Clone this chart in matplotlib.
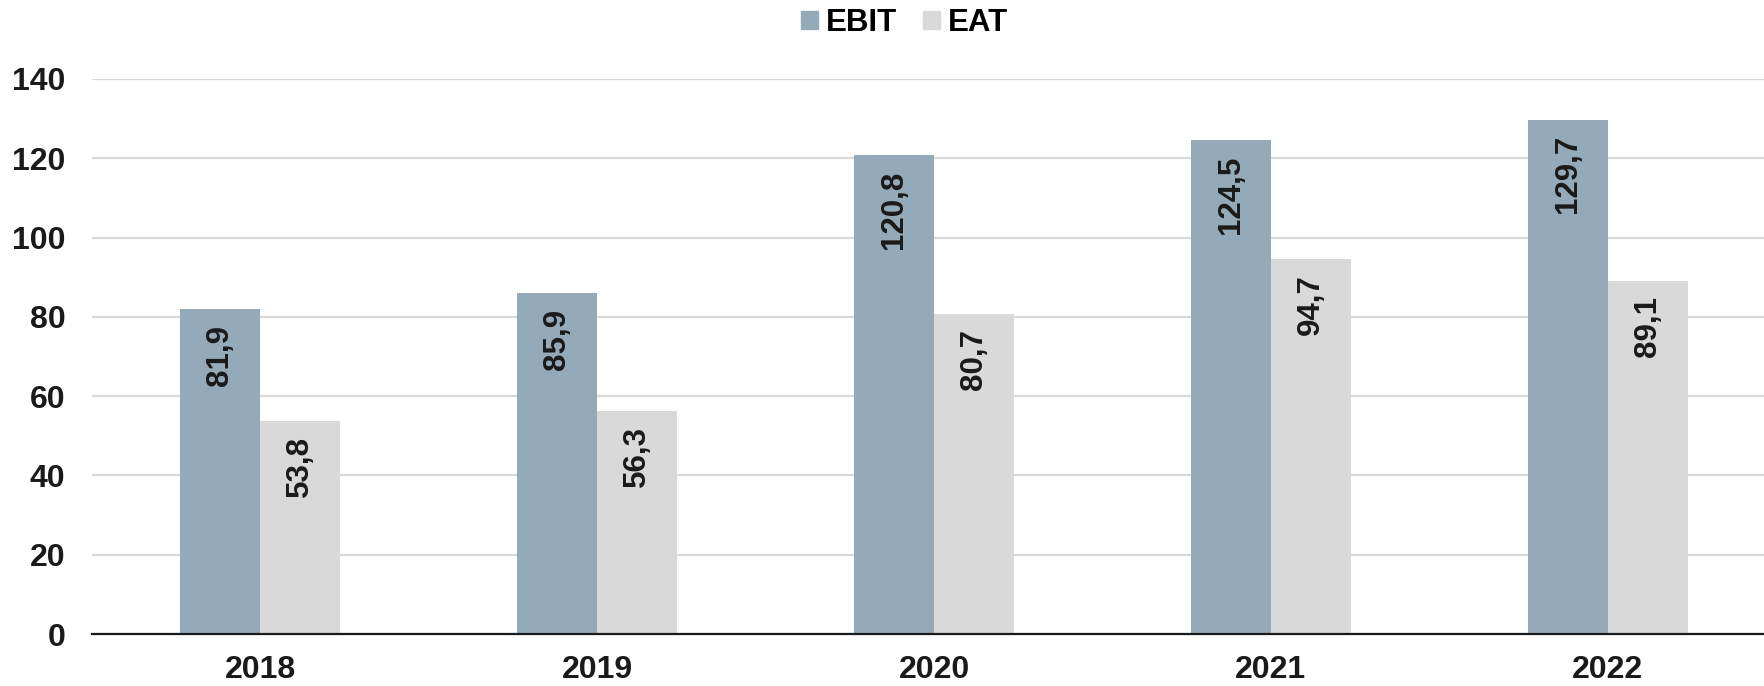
import numpy as np
import matplotlib.pyplot as plt
from matplotlib.patches import Patch

plt.rcParams['font.family'] = ['Liberation Sans', 'DejaVu Sans']
plt.rcParams['font.weight'] = 'bold'

# data
years = ['2018', '2019', '2020', '2021', '2022']
ebit = [81.9, 85.9, 120.8, 124.5, 129.7]
eat = [53.8, 56.3, 80.7, 94.7, 89.1]
yticks = [0, 20, 40, 60, 80, 100, 120, 140]

c_ebit = '#95aab9'
c_eat = '#d9d9d9'

fig = plt.figure(figsize=(17.64, 6.86), dpi=100)
ax = fig.add_axes([92 / 1764, 52 / 686, 1684 / 1764, 555 / 686])

x = np.arange(len(years))
w = 80 / 337
b1 = ax.bar(x - w / 2, ebit, w, color=c_ebit, zorder=2)
b2 = ax.bar(x + w / 2, eat, w, color=c_eat, zorder=2)

# value labels inside the bars, near the top
for bars, vals in [(b1, ebit), (b2, eat)]:
    for r, v in zip(bars, vals):
        ax.annotate(f'{v:.1f}'.replace('.', ','),
                    (r.get_x() + r.get_width() / 2, v),
                    xytext=(0, -11), textcoords='offset points',
                    rotation=90, ha='center', va='top',
                    fontsize=22.5, fontweight='bold', color='#1a1a1a', zorder=3)

ax.set_xlim(-0.5, len(years) - 0.5)
ax.set_ylim(0, 140)
ax.set_yticks(yticks)
ax.set_xticks(x)
ax.set_xticklabels(years)
ax.tick_params(axis='both', length=0, labelsize=23, colors='#1a1a1a')
ax.tick_params(axis='y', pad=19)
ax.tick_params(axis='x', pad=15)

ax.yaxis.grid(True, color='#d9d9d9', linewidth=1.6, zorder=0)
ax.set_axisbelow(True)
for s in ['top', 'right', 'left']:
    ax.spines[s].set_visible(False)
ax.spines['bottom'].set_color('#1a1a1a')
ax.spines['bottom'].set_linewidth(1.6)
ax.spines['bottom'].set_zorder(4)

handles = [Patch(color=c_ebit, label='EBIT'), Patch(color=c_eat, label='EAT')]
fig.legend(handles=handles, loc='center', bbox_to_anchor=(0.5128, 1 - 23 / 686),
           ncol=2, frameon=False, fontsize=22.5, handlelength=0.55, handleheight=0.55,
           handletextpad=0.26, columnspacing=0.8, borderpad=0.2)

fig.savefig('out.png', dpi=100)
